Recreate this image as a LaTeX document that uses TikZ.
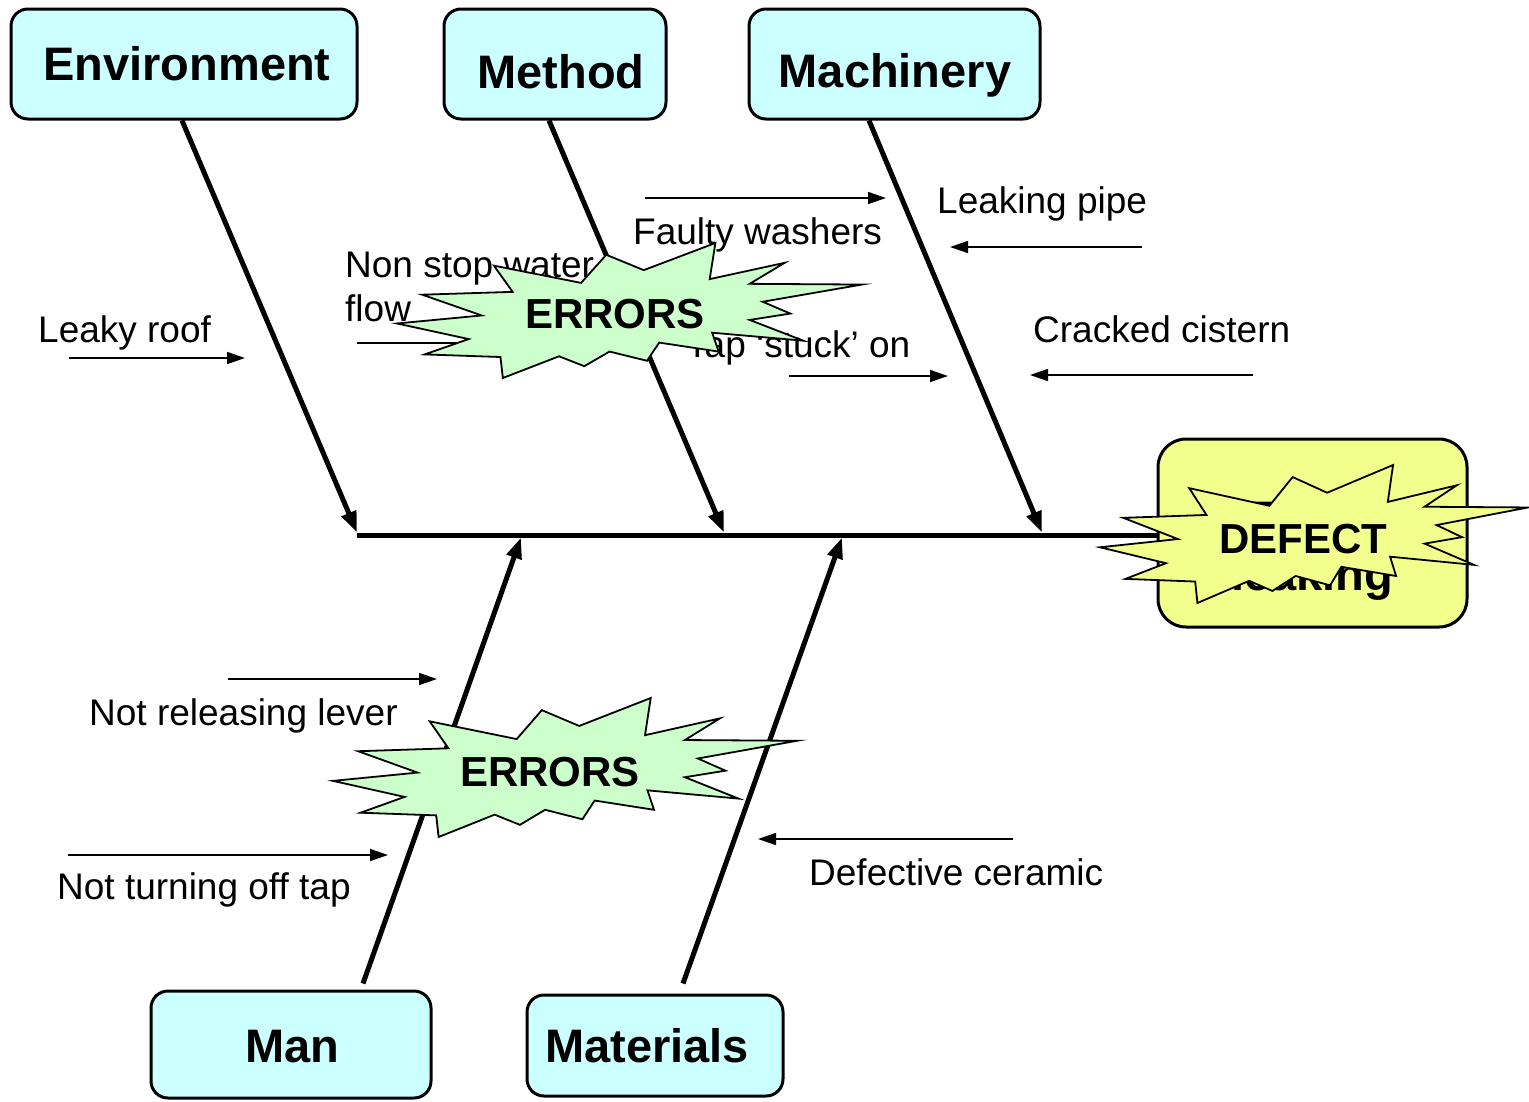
\documentclass[tikz,border=0pt]{standalone}
\usepackage{fontspec}
\setmainfont{Liberation Sans}
\usetikzlibrary{arrows.meta}

\definecolor{boxcyan}{RGB}{204,255,255}
\definecolor{burstgreen}{RGB}{204,255,204}
\definecolor{defyellow}{RGB}{243,255,140}

% Explosion outline in a 216 x 216 frame, stretched to the box (x, y, width, height)
\newcommand\drawburst[5]{%
  \begin{scope}[shift={(#1,#2)},xscale=#3/216,yscale=#4/216]
    \filldraw[fill=#5,line width=1.8pt,line join=miter,miter limit=20]
      (114.62,43.42) -- (147.90,0) -- (145.25,57.77) -- (180.07,31.72) --
      (163.80,65.32) -- (216,66.45) -- (169.85,94.02) -- (182.70,112.90) --
      (163.80,123.10) -- (188.77,156.32) -- (146.40,143.50) -- (149.42,173.70) --
      (121.80,159.35) -- (116.12,188.42) -- (98.72,173.70) -- (87.00,197.12) --
      (75.27,181.25) -- (49.17,216) -- (48.05,182.40) -- (12.85,178.25) --
      (33.30,153.70) -- (0,128.77) -- (39.35,115.92) -- (11.72,82.70) --
      (53.72,78.17) -- (45.02,36.25) -- (85.50,63.82) -- (97.22,18.87) -- cycle;
  \end{scope}}

\tikzset{
  catbox/.style={draw, line width=3pt, fill=boxcyan, rounded corners=17pt, inner sep=0pt},
  cattext/.style={font=\fontsize{47}{56}\selectfont\bfseries, anchor=base, inner sep=0pt},
  cause/.style={font=\fontsize{37}{44}\selectfont, anchor=base west, inner sep=0pt, align=left},
  bone/.style={line width=5pt, -{Triangle[length=21pt,width=15pt]}},
  twig/.style={line width=1.6pt, -{Triangle[length=18pt,width=12pt]}},
  bursttext/.style={font=\fontsize{42}{50}\selectfont\bfseries, anchor=base, inner sep=0pt},
}

\begin{document}
\begin{tikzpicture}[x=1pt,y=-1pt]
\useasboundingbox (0,0) rectangle (1529,1101);

% category boxes
\node[catbox, minimum width=346pt, minimum height=110pt] (env)  at (184,64) {};
\node[catbox, minimum width=222pt, minimum height=110pt] (meth) at (555,64) {};
\node[catbox, minimum width=291pt, minimum height=110pt] (mach) at (894.5,64) {};
\node[catbox, minimum width=280pt, minimum height=107pt] (man)  at (291,1044.5) {};
\node[catbox, minimum width=256pt, minimum height=101pt] (mat)  at (655,1045.5) {};
\node[cattext] (envt)  at (187,80)   {Environment};
\node[cattext] (metht) at (561,88)   {Method};
\node[cattext] (macht) at (895,87)   {Machinery};
\node[cattext] (mant)  at (292,1062) {Man};
\node[cattext] (matt)  at (647,1062) {Materials};

% effect box
\node[draw, line width=3pt, fill=defyellow, rounded corners=28pt,
      minimum width=309pt, minimum height=188pt, inner sep=0pt] (dbox) at (1312.5,533) {};
\node[font=\fontsize{47}{56}\selectfont\bfseries, align=center, inner sep=0pt]
      (dboxt) at (1312,550) {Toilet\\leaking};

% spine
\coordinate (spineL) at (357,535);
\draw[line width=5pt] (spineL) -- (spineL -| dbox.west);

% main bones
\coordinate (envtip)  at (357,532.5);
\coordinate (methtip) at (724,532.5);
\coordinate (machtip) at (1042,532.5);
\coordinate (mantip)  at (521,537.5);
\coordinate (mattip)  at (842,537.5);
\draw[bone] ([xshift=-2pt]env.south) -- (envtip);
\draw[bone] ([xshift=-6pt]meth.south) -- (methtip);
\draw[bone] ([xshift=-25.5pt]mach.south) -- (machtip);
\draw[bone] ([xshift=72pt,yshift=6pt]man.north) -- (mantip);
\draw[bone] ([xshift=28pt,yshift=10pt]mat.north) -- (mattip);

% cause arrows
\coordinate (roofA) at (69,358);    \coordinate (roofB) at (245,358);
\coordinate (flowA) at (357,343);   \coordinate (flowB) at (630,343);
\coordinate (washA) at (645,198);   \coordinate (washB) at (886,198);
\coordinate (stuckA) at (789,376);  \coordinate (stuckB) at (948,376);
\coordinate (pipeA) at (1142,247);  \coordinate (pipeB) at (950,247);
\coordinate (cistA) at (1253,375);  \coordinate (cistB) at (1030,375);
\coordinate (leverA) at (228,679);  \coordinate (leverB) at (437,679);
\coordinate (offA) at (68,855);     \coordinate (offB) at (388,855);
\coordinate (ceramA) at (1013,839); \coordinate (ceramB) at (758,839);
\draw[twig] (roofA) -- (roofB);
\draw[twig] (flowA) -- (flowB);
\draw[twig] (washA) -- (washB);
\draw[twig] (stuckA) -- (stuckB);
\draw[twig] (pipeA) -- (pipeB);
\draw[twig] (cistA) -- (cistB);
\draw[twig] (leverA) -- (leverB);
\draw[twig] (offA) -- (offB);
\draw[twig] (ceramA) -- (ceramB);

% cause labels
\node[cause] (roof)  at (38,342)   {Leaky roof};
\node[cause] (flow)  at (345,321)  {Non stop water\\flow};
\node[cause] (wash)  at (633,244)  {Faulty washers};
\node[cause] (stuck) at (686,357)  {Tap ‘stuck’ on};
\node[cause] (pipe)  at (937,213)  {Leaking pipe};
\node[cause] (cist)  at (1033,342) {Cracked cistern};
\node[cause] (lever) at (89,725)   {Not releasing lever};
\node[cause] (off)   at (57,899)   {Not turning off tap};
\node[cause] (ceram) at (809,885)  {Defective ceramic};

% explosions
\drawburst{397}{243}{465}{135}{burstgreen}
\node[bursttext] (errtop) at (615,328) {ERRORS};
\drawburst{333}{698}{464}{139}{burstgreen}
\node[bursttext] (errbot) at (550,786) {ERRORS};
\drawburst{1100}{465}{428}{138}{defyellow}
\node[bursttext] (defect) at (1303,553) {DEFECT};
\end{tikzpicture}
\end{document}
